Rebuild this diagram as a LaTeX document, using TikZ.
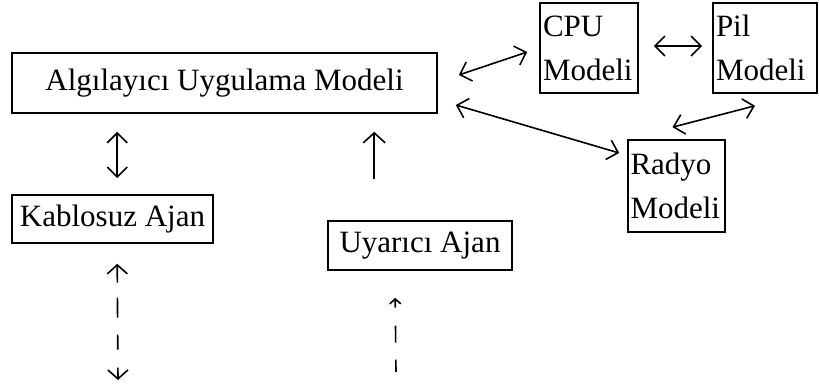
\documentclass[tikz,border=0pt]{standalone}
\usepackage{fontspec}
\setmainfont{Liberation Serif}
\usetikzlibrary{arrows.meta}
\begin{document}
\begin{tikzpicture}[x=1pt,y=-1pt,
  box/.style={draw, line width=1.6pt, inner sep=0pt, font=\fontsize{31}{44}\selectfont},
  twoline/.style={box, align=left, text width=#1, minimum height=90pt},
  link/.style={line width=1.6pt, {Straight Barb[length=10pt,width=20pt]}-{Straight Barb[length=10pt,width=20pt]}},
  uplink/.style={line width=1.6pt, -{Straight Barb[length=10pt,width=22pt]}}
]
\useasboundingbox (0,0) rectangle (819,387);

% boxes
\node[box, minimum width=425pt, minimum height=60pt] (app) at (224.5,83) {Algılayıcı Uygulama Modeli};
\node[twoline=92pt, minimum width=98pt] (cpu) at (589,48) {CPU\\Modeli};
\node[twoline=98pt, minimum width=104pt] (pil) at (765,48) {Pil\\Modeli};
\node[twoline=92pt, minimum width=97pt, minimum height=92pt] (radyo) at (676.5,186) {Radyo\\Modeli};
\node[box, minimum width=201pt, minimum height=48pt] (kablo) at (112.5,219) {Kablosuz Ajan};
\node[box, minimum width=184pt, minimum height=49pt] (uyari) at (420,245.5) {Uyarıcı Ajan};

% links between the models
\draw[link] ([shift={(21,-8)}]app.east) -- ([shift={(-12,4)}]cpu.west);
\draw[link] ([xshift=15pt,yshift=2pt]cpu.east) -- ([xshift=-10pt,yshift=2pt]pil.west);
\draw[link] ([shift={(18,22)}]app.east) -- ([shift={(-8,-33)}]radyo.west);
\draw[link] ([shift={(-10,12)}]pil.south) -- ([shift={(-4,-12)}]radyo.north);
\draw[link] ([shift={(106,18)}]app.south west) -- ([shift={(106,-16)}]kablo.north west);
\draw[uplink] ([shift={(47,-41)}]uyari.north west) -- ([shift={(363,18)}]app.south west);

% dashed links below the agents
\coordinate (kend) at (118,380);
\coordinate (uend) at (396,372);
\draw[line width=1.6pt, dash pattern=on 17pt off 15pt on 20pt off 17pt on 15pt off 18pt on 30pt,
      {Straight Barb[length=9pt,width=20pt]}-{Straight Barb[length=9pt,width=20pt]}]
  ([shift={(106,20)}]kablo.south west) -- (kend);
\draw[line width=1.6pt, dash pattern=on 8pt off 18pt on 17pt off 17pt on 30pt,
      {Straight Barb[length=5pt,width=11pt]}-]
  ([shift={(68,27)}]uyari.south west) -- (uend);
\end{tikzpicture}
\end{document}
